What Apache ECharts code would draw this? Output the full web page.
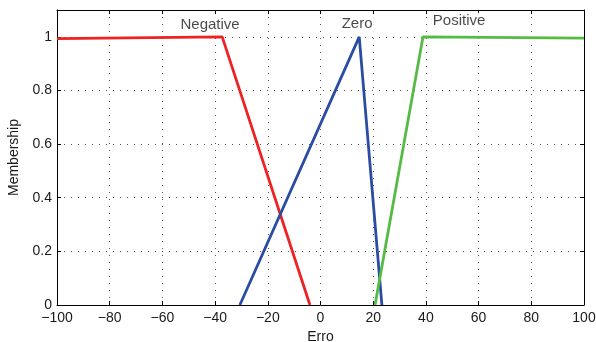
<!DOCTYPE html>
<html>
<head>
<meta charset="utf-8">
<script src="https://cdn.jsdelivr.net/npm/echarts@6/dist/echarts.min.js"></script>
<style>html,body{margin:0;padding:0;background:#fff}#c{width:596px;height:342px}</style>
</head>
<body>
<div id="c"></div>
<script>
var negativeX = [-100, -37.3, -4];
var negativeY = [0.993, 1, 0];
var zeroX = [-30.6, 14.7, 23.3];
var zeroY = [0, 1, 0];
var positiveX = [20.7, 38.9, 100];
var positiveY = [0, 1, 0.995];
var mfNames = ['Negative', 'Zero', 'Positive'];
var labelX = [-41.9, 13.9, 52.6];
var labelY = [1.045, 1.047, 1.058];
var xTicks = [-100, -80, -60, -40, -20, 0, 20, 40, 60, 80, 100];
var yTicks = [0, 0.2, 0.4, 0.6, 0.8, 1];

function pts(xs, ys) { return xs.map(function (x, i) { return [x, ys[i]]; }); }
var font = 'Liberation Sans, Arial, sans-serif';
var chart = echarts.init(document.getElementById('c'));
var axisLine = { show: true, onZero: false, lineStyle: { color: '#000', width: 1 } };
var tick = { show: true, inside: true, length: 4, lineStyle: { color: '#000' } };
var split = { show: true, lineStyle: { color: '#555', type: [1, 6], width: 1 } };
chart.setOption({
  animation: false,
  grid: { left: 57, right: 12, top: 10, bottom: 37, outerBoundsMode: 'none', containLabel: false },
  xAxis: [{
    type: 'value', min: -100, max: 100, interval: 20, position: 'bottom',
    axisLine: axisLine, axisTick: tick,
    splitLine: split,
    axisLabel: { color: '#1a1a1a', fontSize: 14, fontFamily: font, margin: 6,
      formatter: function (v) { return String(v).replace('-', '\u2212'); } },
    name: 'Erro', nameLocation: 'middle', nameGap: 25,
    nameTextStyle: { color: '#1a1a1a', fontSize: 14, fontFamily: font }
  }, {
    type: 'value', min: -100, max: 100, interval: 20, position: 'top',
    axisLine: axisLine, axisTick: tick,
    splitLine: { show: false }, axisLabel: { show: false }
  }],
  yAxis: [{
    type: 'value', min: 0, max: 1.1, interval: 0.2, position: 'left',
    axisLine: axisLine, axisTick: tick,
    splitLine: split,
    axisLabel: { color: '#1a1a1a', fontSize: 14, fontFamily: font, margin: 5, showMaxLabel: false },
    name: 'Membership', nameLocation: 'middle', nameGap: 35, nameRotate: 90,
    nameTextStyle: { color: '#1a1a1a', fontSize: 14, fontFamily: font }
  }, {
    type: 'value', min: 0, max: 1.1, interval: 0.2, position: 'right',
    axisLine: axisLine, axisTick: tick,
    splitLine: { show: false }, axisLabel: { show: false }
  }],
  series: [
    { type: 'line', data: pts(negativeX, negativeY), symbol: 'none', lineStyle: { color: '#EE2222', width: 2.8 }, z: 3 },
    { type: 'line', data: pts(zeroX, zeroY), symbol: 'none', lineStyle: { color: '#2A4CA3', width: 2.8 }, z: 3 },
    { type: 'line', data: pts(positiveX, positiveY), symbol: 'none', lineStyle: { color: '#55BB44', width: 2.8 }, z: 3 },
    { type: 'scatter', symbolSize: 0, z: 5,
      data: mfNames.map(function (n, i) { return { value: [labelX[i], labelY[i]], name: n }; }),
      label: { show: true, position: 'inside', formatter: '{b}', color: '#1a1a1a', fontSize: 15, fontFamily: font,
        backgroundColor: '#fff', padding: [1, 2] } }
  ]
});
</script>
</body>
</html>
